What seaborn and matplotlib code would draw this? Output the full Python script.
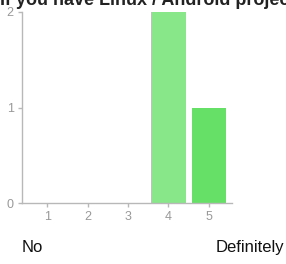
import matplotlib
matplotlib.use("Agg")
import matplotlib.pyplot as plt
import seaborn as sns
import pandas as pd

categories = ["1", "2", "3", "4", "5"]
counts = [0, 0, 0, 2, 1]
bar_colors = ["#7fe07f", "#7fe07f", "#7fe07f", "#88e788", "#66e066"]
yticks = [0, 1, 2]
title = "If you have Linux / Android projects..."
left_label = "No"
right_label = "Definitely"

sns.set_theme(style="white")
plt.rcParams['font.family'] = ['Liberation Sans', 'DejaVu Sans']

df = pd.DataFrame({"rating": categories, "count": counts})

fig = plt.figure(figsize=(2.86, 2.64), dpi=100)
ax = fig.add_axes([22/286, 1 - 203/264, 210/286, 191/264])
sns.barplot(data=df, x="rating", y="count", hue="rating", palette=bar_colors,
            legend=False, ax=ax, width=0.85, saturation=1, edgecolor="none")
ax.set_xlim(-0.62, 4.57)
ax.set_ylim(0, 2)
ax.set_yticks(yticks)
ax.set_xlabel("")
ax.set_ylabel("")
for s in ["top", "right"]:
    ax.spines[s].set_visible(False)
for s in ["left", "bottom"]:
    ax.spines[s].set_color("#b8b8b8")
    ax.spines[s].set_linewidth(1)
ax.tick_params(axis="both", colors="#b8b8b8", labelcolor="#999999", labelsize=9,
               length=3, width=1, direction="out", pad=3,
               bottom=True, left=True)

fig.text(0.0, 1 - 5/264, title, fontsize=13, fontweight="bold", color="#222222",
         ha="left", va="baseline")
fig.text(22/286, 1 - 252/264, left_label, fontsize=12, color="#111111", ha="left", va="baseline")
fig.text(284/286, 1 - 252/264, right_label, fontsize=12, color="#111111", ha="right", va="baseline")

fig.savefig("out.png", dpi=100)
